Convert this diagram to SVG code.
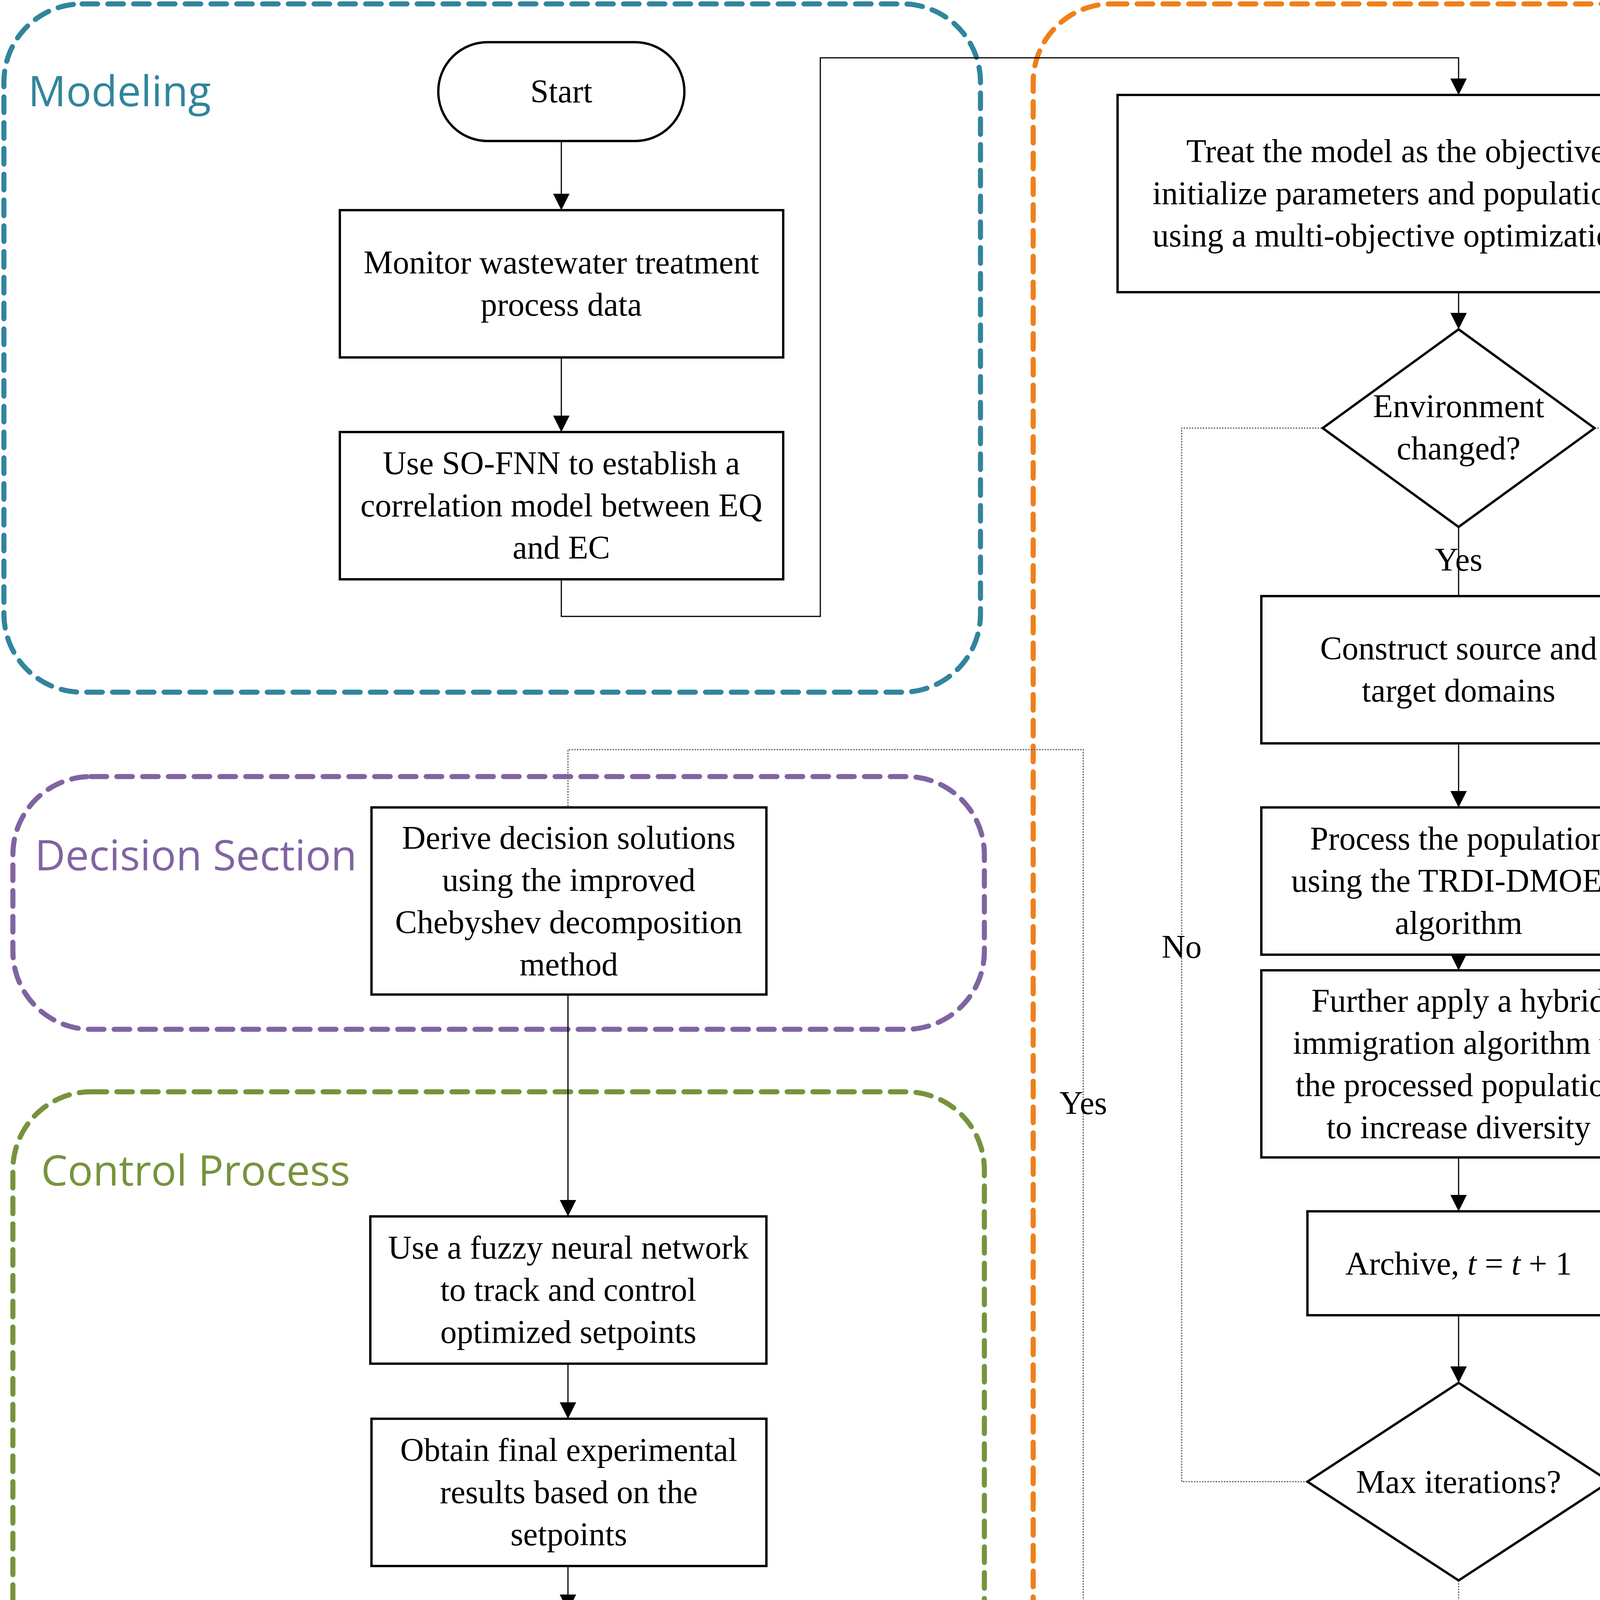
<svg xmlns="http://www.w3.org/2000/svg" width="5145" height="4570" viewBox="0 0 5145 4570">
<style>
.g{fill:none;stroke-width:13;stroke-dasharray:40 26;stroke-linecap:round}
.n{fill:#fff;stroke:#000;stroke-width:6}
.t{font-family:"Liberation Serif",serif;font-size:84px;text-anchor:middle;fill:#000}
.lb{font-family:"Open Sans",sans-serif;font-size:108px}
.c{fill:none;stroke:#000;stroke-width:3}
.d{fill:none;stroke:#666;stroke-width:3;stroke-dasharray:4 3}
</style>
<defs><marker id="a" viewBox="0 0 10 10" refX="10" refY="5" markerWidth="14" markerHeight="14" markerUnits="userSpaceOnUse" orient="auto"><path d="M0,0L10,5L0,10z"/></marker>
<marker id="A" viewBox="0 0 10 10" refX="10" refY="5" markerWidth="42" markerHeight="42" markerUnits="userSpaceOnUse" orient="auto"><path d="M0,0L10,5L0,10z"/></marker></defs>
<g id="groups">
<rect class="g" x="10" y="10" width="2500" height="1762" rx="200" stroke="#31859C"/>
<text class="lb" x="72" y="272" fill="#31859C">Modeling</text>
<rect class="g" x="2645" y="10" width="2490" height="4550" rx="200" stroke="#F07F1A"/>
<text class="lb" x="4879" y="4374" fill="#F07F1A" text-anchor="end">Optimization Algorithm</text>
<rect class="g" x="33" y="1988" width="2487" height="647" rx="200" stroke="#8064A2"/>
<text class="lb" x="89" y="2228" fill="#8064A2">Decision Section</text>
<rect class="g" x="33" y="2795" width="2487" height="1759" rx="200" stroke="#77933C"/>
<text class="lb" x="105" y="3035" fill="#77933C">Control Process</text>
</g>
<g id="connectors">
<path class="c" d="M1437,361V538" marker-end="url(#A)"/>
<path class="c" d="M1437,915V1106" marker-end="url(#A)"/>
<path class="c" d="M1437,1483V1578H2100V148H3734V243" marker-end="url(#A)"/>
<path class="c" d="M3734,748V843" marker-end="url(#A)"/>
<path class="d" d="M4082,1096H4728V1529"/>
<path class="c" d="M4728,2107V3235H4118" marker-end="url(#A)"/>
<path class="c" d="M3734,1349V1526"/>
<path class="c" d="M3734,1903V2067" marker-end="url(#A)"/>
<path class="c" d="M3734,2444V2484" marker-end="url(#A)"/>
<path class="c" d="M3734,2963V3101" marker-end="url(#A)"/>
<path class="c" d="M3734,3367V3540" marker-end="url(#A)"/>
<path class="d" d="M3347,3793H3025V1096H3386"/>
<path class="d" d="M3734,4046V4138H2773V1919H1454V2067"/>
<path class="c" d="M1454,2546V3114" marker-end="url(#A)"/>
<path class="c" d="M1454,3491V3632" marker-end="url(#A)"/>
<path class="c" d="M1454,4009V4124" marker-end="url(#A)"/>
<text class="t" x="4620" y="1123">No</text>
<text class="t" x="3734" y="1461">Yes</text>
<text class="t" x="3025" y="2452">No</text>
<text class="t" x="2773" y="2852">Yes</text>
</g>
<g id="start"><rect class="n" x="1122" y="108" width="630" height="253" rx="126"/><text class="t" x="1437" y="262">Start</text></g>
<g id="monitor"><rect class="n" x="870" y="538" width="1135" height="377"/><text class="t" x="1437" y="700">Monitor wastewater treatment</text><text class="t" x="1437" y="808">process data</text></g>
<g id="sofnn"><rect class="n" x="870" y="1106" width="1135" height="377"/><text class="t" x="1437" y="1214">Use SO-FNN to establish a</text><text class="t" x="1437" y="1322">correlation model between EQ</text><text class="t" x="1437" y="1430">and EC</text></g>
<g id="treat"><rect class="n" x="2861" y="243" width="1743" height="505"/><text class="t" x="3734" y="415">Treat the model as the objective function,</text><text class="t" x="3734" y="523">initialize parameters and population, and solve</text><text class="t" x="3734" y="631">using a multi-objective optimization algorithm</text></g>
<g id="env"><path class="n" d="M3734,843L4082,1096L3734,1349L3386,1096z"/><text class="t" x="3734" y="1068">Environment</text><text class="t" x="3734" y="1176">changed?</text></g>
<g id="smoea"><rect class="n" x="4417" y="1529" width="626" height="578"/><text class="t" x="4730" y="1632">Apply the</text><text class="t" x="4730" y="1740">SMOEA</text><text class="t" x="4730" y="1848">algorithm to the</text><text class="t" x="4730" y="1956">archived</text><text class="t" x="4730" y="2064">population</text></g>
<g id="construct"><rect class="n" x="3229" y="1526" width="1007" height="377"/><text class="t" x="3734" y="1688">Construct source and</text><text class="t" x="3734" y="1796">target domains</text></g>
<g id="process"><rect class="n" x="3229" y="2067" width="1007" height="377"/><text class="t" x="3734" y="2175">Process the population</text><text class="t" x="3734" y="2283">using the TRDI-DMOEA</text><text class="t" x="3734" y="2391">algorithm</text></g>
<g id="further"><rect class="n" x="3229" y="2484" width="1007" height="479"/><text class="t" x="3734" y="2590">Further apply a hybrid</text><text class="t" x="3734" y="2698">immigration algorithm to</text><text class="t" x="3734" y="2806">the processed population</text><text class="t" x="3734" y="2914">to increase diversity</text></g>
<g id="archive"><rect class="n" x="3347" y="3101" width="771" height="266"/><text class="t" x="3734" y="3263">Archive, <tspan font-style="italic">t</tspan> = <tspan font-style="italic">t</tspan> + 1</text></g>
<g id="maxit"><path class="n" d="M3734,3540L4121,3793L3734,4046L3347,3793z"/><text class="t" x="3734" y="3822">Max iterations?</text></g>
<g id="derive"><rect class="n" x="951" y="2067" width="1011" height="479"/><text class="t" x="1456" y="2173">Derive decision solutions</text><text class="t" x="1456" y="2281">using the improved</text><text class="t" x="1456" y="2389">Chebyshev decomposition</text><text class="t" x="1456" y="2497">method</text></g>
<g id="fuzzy"><rect class="n" x="948" y="3114" width="1014" height="377"/><text class="t" x="1455" y="3222">Use a fuzzy neural network</text><text class="t" x="1455" y="3330">to track and control</text><text class="t" x="1455" y="3438">optimized setpoints</text></g>
<g id="obtain"><rect class="n" x="951" y="3632" width="1011" height="377"/><text class="t" x="1456" y="3740">Obtain final experimental</text><text class="t" x="1456" y="3848">results based on the</text><text class="t" x="1456" y="3956">setpoints</text></g>
<g id="end"><rect class="n" x="1139" y="4124" width="633" height="253" rx="126"/><text class="t" x="1455" y="4280">End</text></g>
</svg>
